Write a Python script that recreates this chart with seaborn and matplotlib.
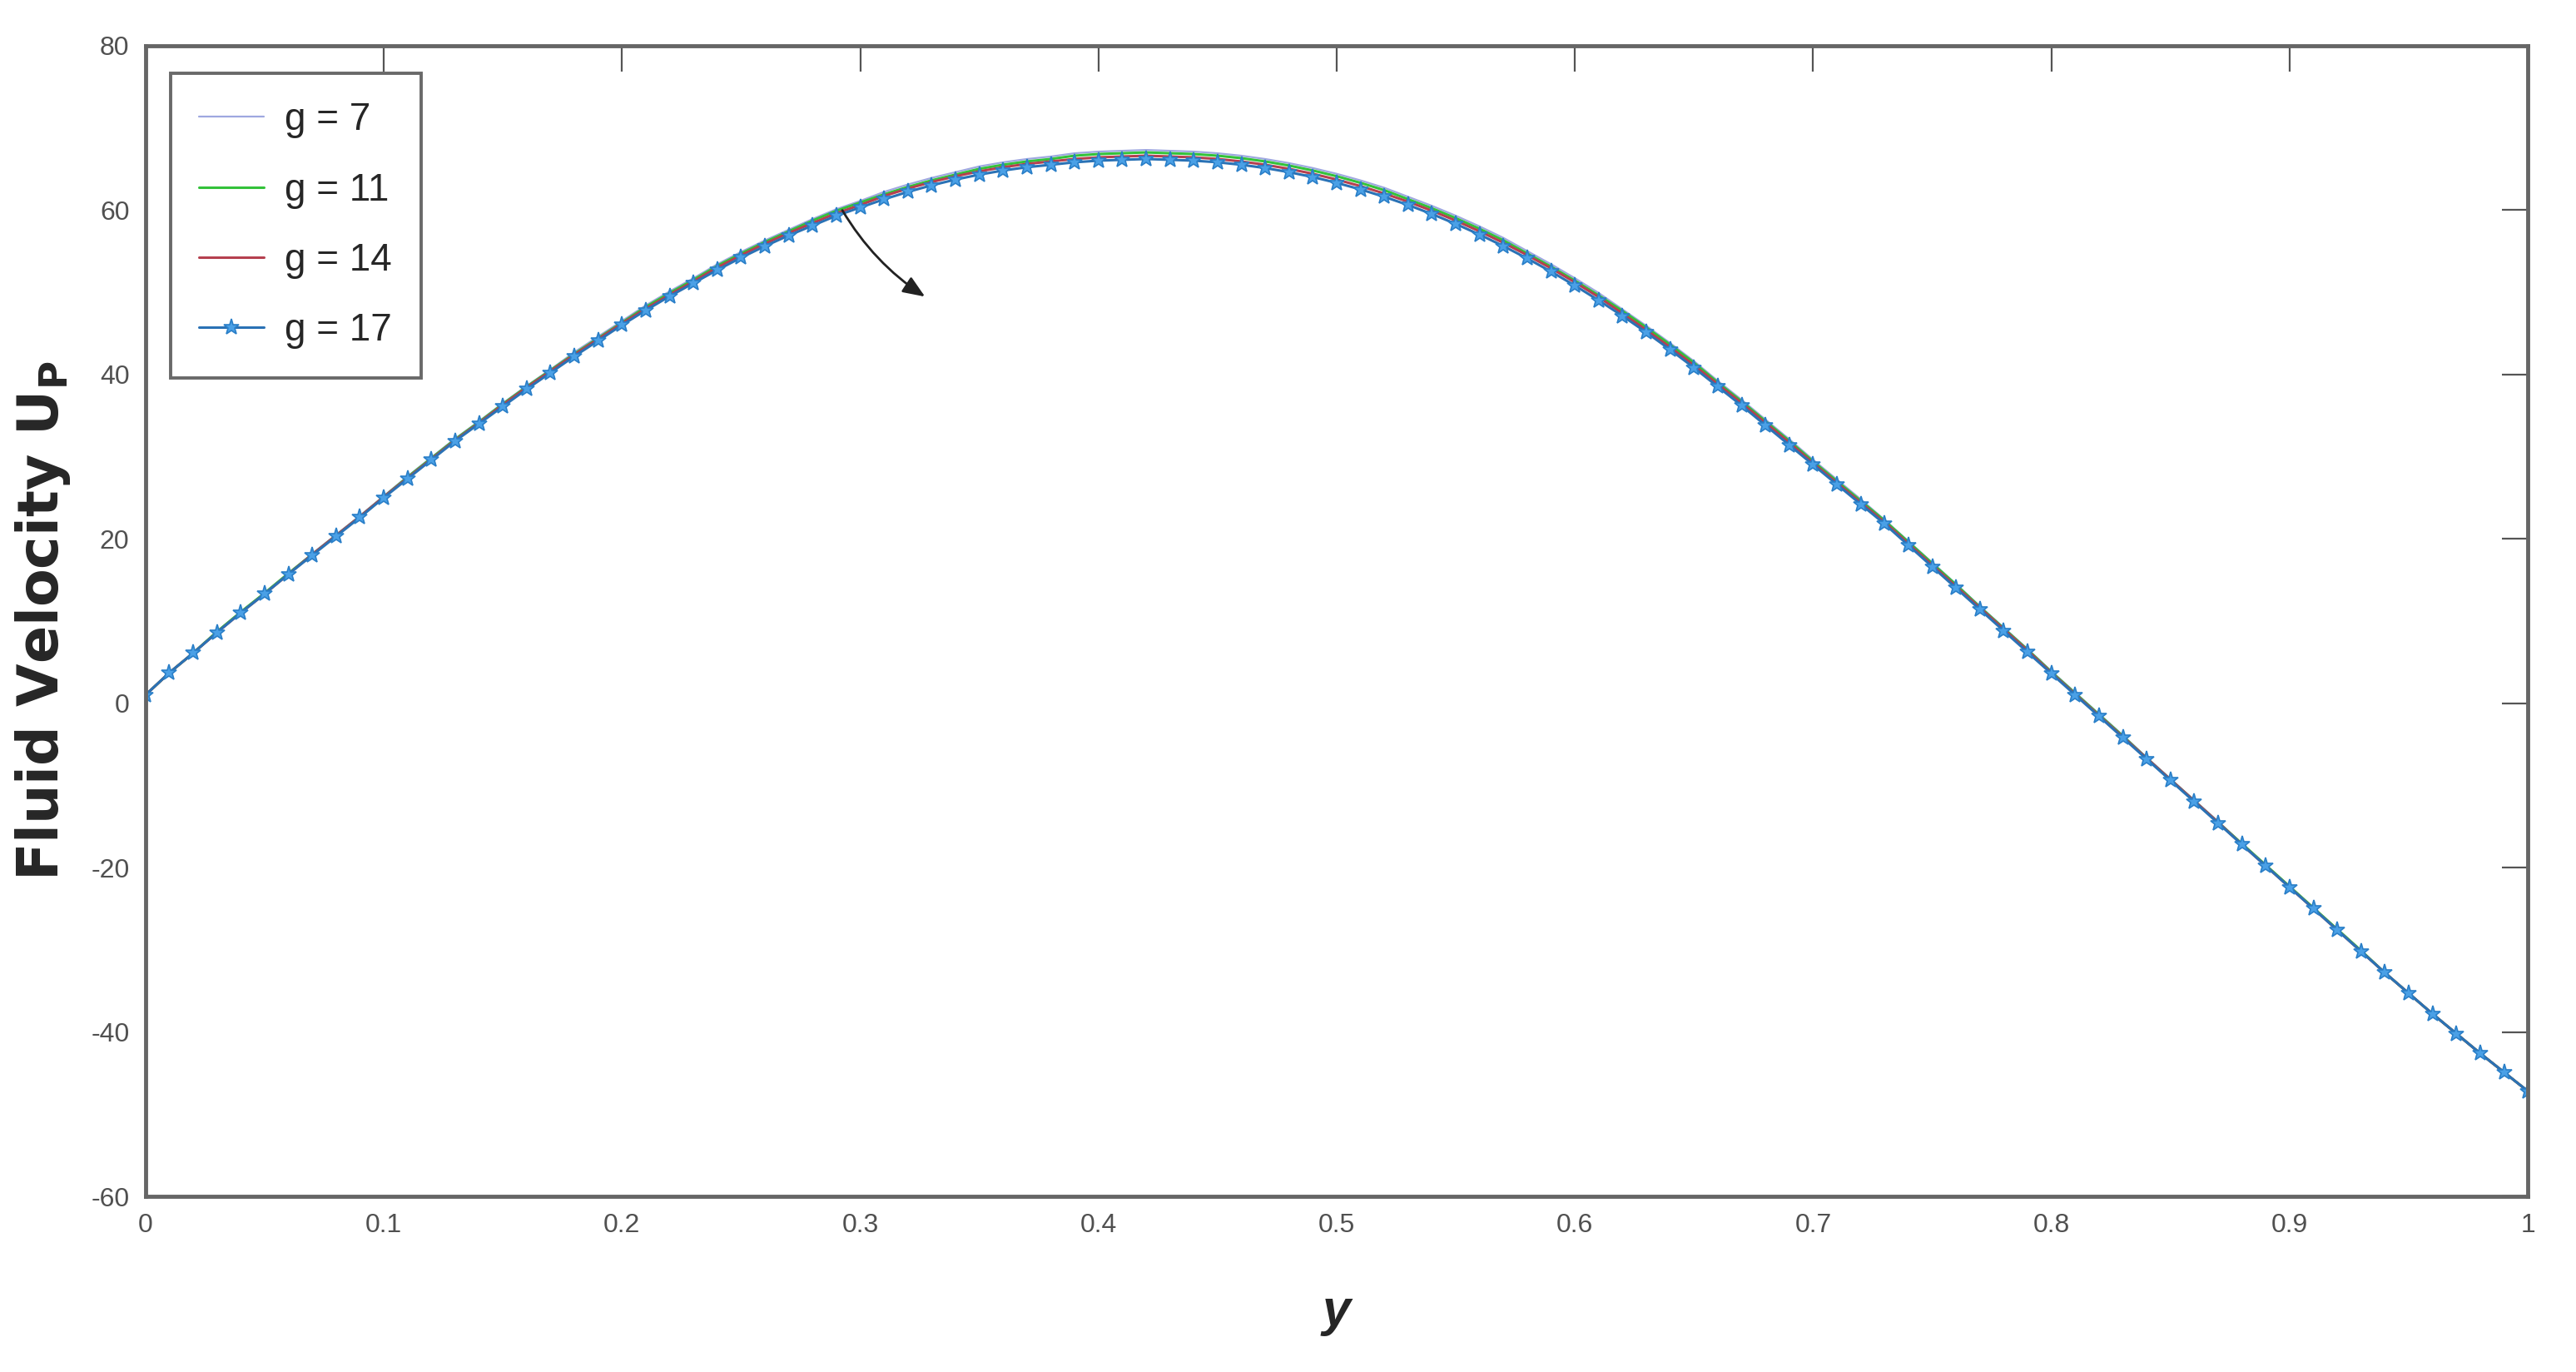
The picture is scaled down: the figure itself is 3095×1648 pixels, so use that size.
import numpy as np
import pandas as pd
import matplotlib
matplotlib.use("Agg")
import matplotlib.pyplot as plt
import seaborn as sns

# y positions across the channel
y_pos = [round(i * 0.01, 2) for i in range(101)]

# fluid velocity, one list per g
u_g7 = [1.0, 3.7, 6.1, 8.7, 11.1, 13.4, 15.8, 18.2, 20.5, 22.8, 25.2,
        27.6, 29.9, 32.2, 34.3, 36.5, 38.6, 40.6, 42.7, 44.6, 46.5,
        48.4, 50.1, 51.7, 53.4, 54.9, 56.3, 57.6, 58.9, 60.1, 61.1,
        62.2, 63.1, 63.9, 64.6, 65.3, 65.8, 66.2, 66.5, 66.9, 67.1,
        67.2, 67.3, 67.2, 67.1, 66.9, 66.6, 66.2, 65.7, 65.1, 64.4,
        63.6, 62.7, 61.6, 60.5, 59.3, 58.0, 56.6, 55.0, 53.4, 51.7,
        49.9, 47.9, 45.9, 43.8, 41.6, 39.2, 36.9, 34.5, 32.1, 29.6,
        27.2, 24.8, 22.3, 19.7, 17.1, 14.5, 11.8, 9.2, 6.6, 3.9,
        1.3, -1.3, -3.9, -6.6, -9.2, -11.8, -14.4, -17.1, -19.7, -22.3,
        -24.9, -27.5, -30.1, -32.8, -35.3, -37.8, -40.2, -42.6, -44.9, -47.2]
u_g11 = [1.0, 3.7, 6.1, 8.7, 11.1, 13.4, 15.8, 18.1, 20.4, 22.7, 25.1,
         27.5, 29.8, 32.1, 34.2, 36.4, 38.5, 40.5, 42.5, 44.4, 46.3,
         48.2, 49.9, 51.5, 53.2, 54.7, 56.1, 57.4, 58.7, 59.9, 60.9,
         61.9, 62.8, 63.6, 64.3, 65.0, 65.5, 65.9, 66.2, 66.6, 66.8,
         66.9, 67.0, 66.9, 66.8, 66.6, 66.3, 65.9, 65.4, 64.8, 64.1,
         63.3, 62.4, 61.3, 60.2, 59.0, 57.7, 56.3, 54.7, 53.1, 51.4,
         49.6, 47.7, 45.7, 43.6, 41.4, 39.0, 36.7, 34.3, 31.9, 29.4,
         27.0, 24.6, 22.2, 19.6, 17.0, 14.4, 11.7, 9.1, 6.5, 3.8,
         1.2, -1.4, -4.0, -6.7, -9.3, -11.9, -14.5, -17.1, -19.7, -22.3,
         -24.9, -27.5, -30.1, -32.8, -35.3, -37.8, -40.2, -42.6, -44.9, -47.2]
u_g14 = [1.0, 3.7, 6.1, 8.6, 11.0, 13.3, 15.7, 18.1, 20.4, 22.7, 25.1,
         27.4, 29.7, 32.0, 34.1, 36.3, 38.4, 40.4, 42.4, 44.3, 46.2,
         48.0, 49.7, 51.3, 53.0, 54.5, 55.9, 57.2, 58.4, 59.6, 60.6,
         61.7, 62.6, 63.4, 64.1, 64.7, 65.2, 65.6, 65.9, 66.2, 66.4,
         66.5, 66.6, 66.5, 66.4, 66.2, 65.9, 65.5, 65.0, 64.4, 63.7,
         62.9, 62.0, 61.0, 59.9, 58.7, 57.4, 56.0, 54.5, 52.9, 51.2,
         49.4, 47.4, 45.4, 43.3, 41.1, 38.8, 36.5, 34.1, 31.7, 29.2,
         26.8, 24.4, 22.0, 19.4, 16.8, 14.2, 11.6, 9.0, 6.4, 3.7,
         1.1, -1.5, -4.1, -6.7, -9.3, -11.9, -14.5, -17.2, -19.8, -22.4,
         -25.0, -27.6, -30.2, -32.8, -35.3, -37.8, -40.2, -42.6, -44.9, -47.2]
u_g17 = [1.0, 3.7, 6.1, 8.6, 11.0, 13.3, 15.7, 18.0, 20.3, 22.6, 25.0,
         27.3, 29.6, 31.9, 34.0, 36.1, 38.2, 40.2, 42.2, 44.1, 46.0,
         47.8, 49.5, 51.1, 52.7, 54.2, 55.6, 56.9, 58.1, 59.3, 60.3,
         61.3, 62.2, 63.0, 63.7, 64.3, 64.8, 65.2, 65.5, 65.8, 66.0,
         66.1, 66.2, 66.1, 66.0, 65.8, 65.5, 65.1, 64.6, 64.0, 63.3,
         62.5, 61.6, 60.6, 59.5, 58.3, 57.0, 55.6, 54.1, 52.5, 50.8,
         49.0, 47.1, 45.1, 43.0, 40.8, 38.5, 36.2, 33.8, 31.4, 29.0,
         26.6, 24.2, 21.8, 19.2, 16.6, 14.0, 11.4, 8.8, 6.2, 3.6,
         1.0, -1.6, -4.2, -6.8, -9.4, -12.0, -14.6, -17.2, -19.8, -22.4,
         -25.0, -27.6, -30.2, -32.8, -35.3, -37.8, -40.2, -42.6, -44.9, -47.2]

labels = ["g = 7", "g = 11", "g = 14", "g = 17"]
x_ticks = [0, 0.1, 0.2, 0.3, 0.4, 0.5, 0.6, 0.7, 0.8, 0.9, 1]
x_tick_labels = ["0", "0.1", "0.2", "0.3", "0.4", "0.5", "0.6", "0.7", "0.8", "0.9", "1"]
y_ticks = [-60, -40, -20, 0, 20, 40, 60, 80]

sns.set_style("white")
plt.rcParams["font.family"] = ["Liberation Sans", "DejaVu Sans"]
plt.rcParams["axes.unicode_minus"] = False
plt.rcParams["mathtext.fontset"] = "custom"
plt.rcParams["mathtext.bf"] = "DejaVu Sans:bold"

fig = plt.figure(figsize=(30.95, 16.48), dpi=100)
ax = fig.add_axes([0.0565, 0.128, 0.9248, 0.8388])

sns.lineplot(x=y_pos, y=u_g7, ax=ax, color="#9fa8e0", lw=1.6, label=labels[0])
sns.lineplot(x=y_pos, y=u_g11, ax=ax, color="#33c23a", lw=2.2, label=labels[1])
sns.lineplot(x=y_pos, y=u_g14, ax=ax, color="#b5404f", lw=2.2, label=labels[2])
sns.lineplot(x=y_pos, y=u_g17, ax=ax, color="#2a72b5", lw=2.2, label=labels[3],
             marker="*", markersize=14, markerfacecolor="#4aa0e6",
             markeredgecolor="#2a7fc8", markeredgewidth=1.2)

ax.set_xlim(0, 1)
ax.set_ylim(-60, 80)
ax.set_xticks(x_ticks)
ax.set_xticklabels(x_tick_labels)
ax.set_yticks(y_ticks)
ax.tick_params(axis="both", direction="in", length=22, width=1.6, colors="#555555",
               labelsize=23, labelcolor="#505050", top=True, right=True, pad=14)
for s in ax.spines.values():
    s.set_visible(True)
    s.set_color("#666666")
    s.set_linewidth(3.5)

ax.set_xlabel("y", fontsize=44, fontweight="bold", style="italic", labelpad=44)
ax.set_ylabel(r"Fluid Velocity U$_{\mathbf{P}}$", fontsize=48, fontweight="bold",
              labelpad=16, family=["DejaVu Sans"])

ax.annotate("", xy=(0.328, 49.3), xytext=(0.292, 60.2),
            arrowprops=dict(arrowstyle="-|>,head_length=1.6,head_width=0.65",
                            connectionstyle="arc3,rad=0.12", color="#222222", lw=2.0))

leg = ax.legend(loc="upper left", bbox_to_anchor=(0.0105, 0.976), fontsize=33,
                frameon=True, fancybox=False, handlelength=1.7, handletextpad=0.55,
                labelspacing=0.88, borderpad=0.75, borderaxespad=0)
leg.get_frame().set_edgecolor("#444444")
leg.get_frame().set_linewidth(2.8)

fig.savefig("out.png", dpi=100)
